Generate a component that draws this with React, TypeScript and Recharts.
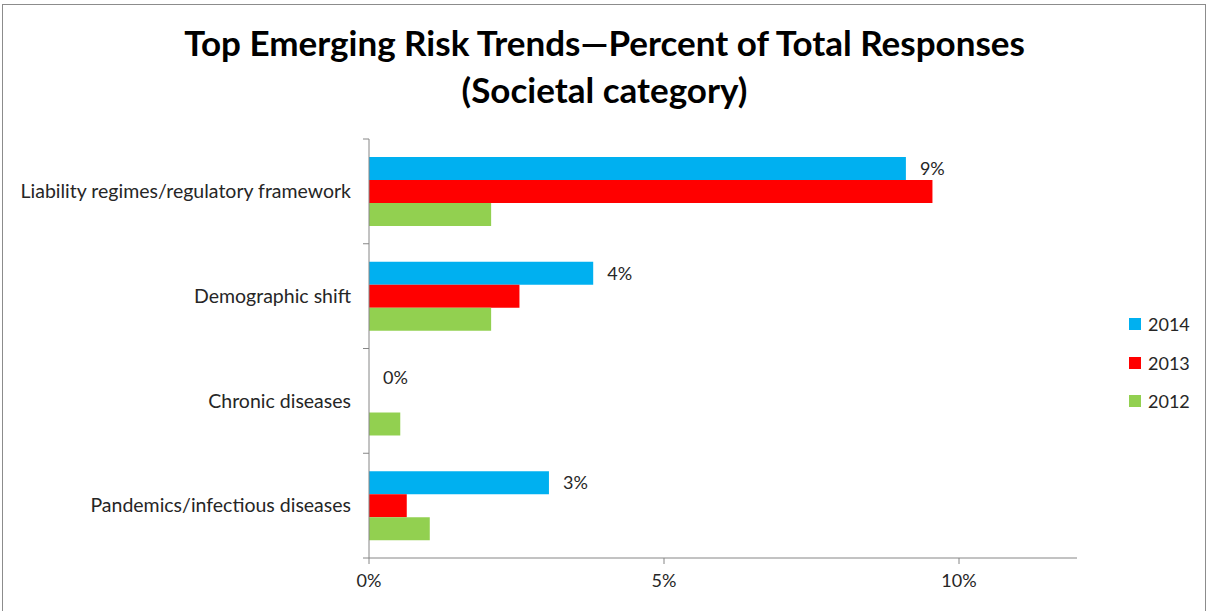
import { BarChart, Bar, XAxis, YAxis, LabelList } from 'recharts';

const categories = [
  'Liability regimes/regulatory framework',
  'Demographic shift',
  'Chronic diseases',
  'Pandemics/infectious diseases',
];
const values2014 = [9.1, 3.8, 0, 3.05];
const values2013 = [9.55, 2.55, 0, 0.64];
const values2012 = [2.07, 2.07, 0.53, 1.03];
const xTicks = [0, 5, 10];

const series = [
  { key: 'y2014', name: '2014', color: '#00B0F0' },
  { key: 'y2013', name: '2013', color: '#FF0000' },
  { key: 'y2012', name: '2012', color: '#92D050' },
];

const chartData = categories.map((name, i) => ({
  name,
  y2014: values2014[i],
  y2013: values2013[i],
  y2012: values2012[i],
}));

const FONT = 'Lato, "Open Sans", sans-serif';
const AXIS = '#868686';
const TEXT = '#262626';
const PLOT_TOP = 139;
const PLOT_BOTTOM = 558;
const BAND = (PLOT_BOTTOM - PLOT_TOP) / categories.length;

// category label centred in its band, tick marks drawn at band edges like Excel
const CategoryTick = ({ x, y, payload, index }: any) => (
  <g>
    <line x1={x - 6} x2={x} y1={y - BAND / 2} y2={y - BAND / 2} stroke={AXIS} />
    {index === categories.length - 1 && (
      <line x1={x - 6} x2={x} y1={y + BAND / 2} y2={y + BAND / 2} stroke={AXIS} />
    )}
    <text x={x - 18} y={y} dy="0.35em" textAnchor="end" fontSize={19.5} fontFamily={FONT} fill={TEXT}>
      {payload.value}
    </text>
  </g>
);

export default function App() {
  return (
    <div style={{ position: 'absolute', left: 0, top: 0, width: 1209, height: 611, overflow: 'hidden', background: '#fff' }}>
      <div
        style={{
          position: 'absolute',
          left: 2,
          top: 4,
          width: 1204,
          height: 640,
          border: '1px solid #8c8c8c',
          boxSizing: 'border-box',
        }}
      />
      <div
        style={{
          position: 'absolute',
          left: 0,
          top: 19,
          width: 1209,
          textAlign: 'center',
          fontFamily: FONT,
          fontWeight: 'bold',
          fontSize: 35,
          lineHeight: '47px',
          color: '#000',
        }}
      >
        Top Emerging Risk Trends—Percent of Total Responses
        <br />
        (Societal category)
      </div>
      <BarChart
        width={1209}
        height={611}
        data={chartData}
        layout="vertical"
        margin={{ top: PLOT_TOP, right: 132, bottom: 611 - PLOT_BOTTOM - 40, left: 0 }}
        barSize={23}
        barGap={0}
        style={{ position: 'absolute', left: 0, top: 0 }}
      >
        <XAxis
          type="number"
          domain={[0, 12]}
          ticks={xTicks}
          tickFormatter={(v: number) => `${v}%`}
          stroke={AXIS}
          tickSize={6}
          tickMargin={10}
          height={40}
          tick={{ fontSize: 18, fontFamily: FONT, fill: TEXT }}
          interval={0}
        />
        <YAxis
          type="category"
          dataKey="name"
          width={369}
          stroke={AXIS}
          tickLine={false}
          tickSize={0}
          tickMargin={0}
          tick={<CategoryTick />}
          interval={0}
        />
        {series.map((s) => (
          <Bar
            key={s.key}
            dataKey={s.key}
            name={s.name}
            fill={s.color}
            minPointSize={0.01}
            isAnimationActive={false}
          >
            {s.key === 'y2014' && (
              <LabelList
                dataKey={s.key}
                position="right"
                offset={14}
                formatter={(v: any) => `${Math.round(Number(v))}%`}
                style={{ fontSize: 18, fontFamily: FONT, fill: TEXT }}
              />
            )}
          </Bar>
        ))}
      </BarChart>
      <div style={{ position: 'absolute', left: 1129, top: 305, fontFamily: FONT, fontSize: 18, color: TEXT }}>
        {series.map((s) => (
          <div key={s.key} style={{ display: 'flex', alignItems: 'center', height: 38.5 }}>
            <div style={{ width: 12, height: 12, background: s.color, marginRight: 7 }} />
            <span>{s.name}</span>
          </div>
        ))}
      </div>
    </div>
  );
}
